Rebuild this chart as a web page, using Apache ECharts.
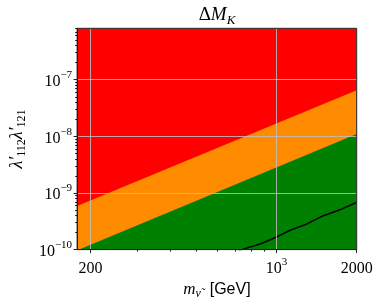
<!DOCTYPE html>
<html><head><meta charset="utf-8">
<script src="https://cdn.jsdelivr.net/npm/echarts@6/dist/echarts.min.js"></script>
<style>html,body{margin:0;padding:0;background:#fff}#c{width:381px;height:305px}</style>
</head><body><div id="c"></div>
<script>
// ---- data ----
const massEdges = [178, 2000];
const redTop = [8.1e-7, 8.1e-7];
const orangeTop = [5.9e-10, 6.5e-8];
const greenTop = [9.7e-11, 1.1e-8];
const curveMass = [720, 745, 872, 1000, 1127, 1300, 1499, 1729, 1966, 2000];
const curveVal = [0.95e-10, 1.01e-10, 1.27e-10, 1.67e-10, 2.21e-10, 2.84e-10, 3.97e-10, 5.04e-10, 6.6e-10, 6.9e-10];
const yMajor = [1e-10, 1e-9, 1e-8, 1e-7];
const yMinor = [];
[1e-10, 1e-9, 1e-8, 1e-7].forEach(d => { for (let k = 2; k <= 9; k++) yMinor.push(k * d); });
const xLabels = [200, 1000, 2000];
const xMinor = [300, 400, 500, 600, 700, 800, 900];

const pairs = (xs, ys) => xs.map((x, i) => [x, ys[i]]);
const serif = 'Liberation Serif';
const sup = { b: { fontFamily: serif, fontSize: 16, color: '#000', lineHeight: 20, verticalAlign: 'bottom' },
              s: { fontFamily: serif, fontSize: 11, color: '#000', lineHeight: 20, verticalAlign: 'top' } };

const chart = echarts.init(document.getElementById('c'));
const grid = { left: 74, right: 24.3, top: 28.3, bottom: 53.3, show: true, borderColor: '#222', borderWidth: 1, backgroundColor: 'transparent', z: 10 };
const gridLine = { show: true, lineStyle: { color: 'rgba(190,190,190,0.85)', width: 1 } };
chart.setOption({
  animation: false,
  grid: grid,
  graphic: [{
    type: 'text', x: 217, y: 15,
    style: { textAlign: 'center', textVerticalAlign: 'middle',
      text: '{d|Δ}{m|M}{k|K}',
      rich: { d: { fontFamily: serif, fontSize: 19, color: '#000', lineHeight: 24, verticalAlign: 'middle' },
              m: { fontFamily: serif, fontSize: 19, fontStyle: 'italic', color: '#000', lineHeight: 24, verticalAlign: 'middle' },
              k: { fontFamily: serif, fontSize: 13, fontStyle: 'italic', color: '#000', lineHeight: 24, verticalAlign: 'bottom' } } }
  }],
  xAxis: [{
    type: 'log', min: 178, max: 2000, position: 'bottom', z: 5,
    name: '{m|m}{n|ν̃}{g|\u00a0\u00a0[GeV]}', nameLocation: 'middle', nameGap: 26,
    nameTextStyle: { rich: {
      m: { fontFamily: serif, fontStyle: 'italic', fontSize: 17, color: '#000', lineHeight: 20, verticalAlign: 'middle' },
      n: { fontFamily: serif, fontStyle: 'italic', fontSize: 12, color: '#000', lineHeight: 20, verticalAlign: 'bottom' },
      g: { fontFamily: 'Liberation Sans', fontSize: 16, color: '#000', lineHeight: 20, verticalAlign: 'middle' } } },
    axisLine: { show: true, onZero: false, lineStyle: { color: '#222', width: 1 } },
    axisTick: { show: true, length: 3.5, customValues: xLabels, lineStyle: { color: '#222' } },
    axisLabel: { show: true, margin: 7, customValues: xLabels,
      formatter: v => (Math.abs(v - 1000) < 1 ? '{b|10}{s|3}' : '{b|' + Math.round(v) + '}'), rich: sup },
    splitLine: gridLine, minorTick: { show: false }
  }, {
    type: 'log', min: 178, max: 2000, position: 'bottom', z: 5,
    axisLine: { show: false, onZero: false },
    axisTick: { show: true, length: 2, customValues: xMinor, lineStyle: { color: '#222' } },
    axisLabel: { show: false }, splitLine: { show: false }
  }],
  yAxis: [{
    type: 'log', min: 1e-10, max: 8.1e-7, position: 'left', z: 5,
    name: '{l|λ′}{i|112}{l|λ′}{i|121}', nameLocation: 'middle', nameGap: 45, nameRotate: 90,
    nameTextStyle: { rich: {
      l: { fontFamily: serif, fontStyle: 'italic', fontSize: 18, color: '#000', lineHeight: 22, verticalAlign: 'middle' },
      i: { fontFamily: serif, fontSize: 12, color: '#000', lineHeight: 22, verticalAlign: 'bottom' } } },
    axisLine: { show: true, onZero: false, lineStyle: { color: '#222', width: 1 } },
    axisTick: { show: true, length: 3.5, customValues: yMajor, lineStyle: { color: '#222' } },
    axisLabel: { show: true, margin: 5, customValues: yMajor,
      formatter: v => '{b|10}{s|−' + Math.round(-Math.log10(v)) + '}', rich: sup },
    splitLine: gridLine, minorTick: { show: false }
  }, {
    type: 'log', min: 1e-10, max: 8.1e-7, position: 'left', z: 5,
    axisLine: { show: false, onZero: false },
    axisTick: { show: true, length: 2, customValues: yMinor, lineStyle: { color: '#222' } },
    axisLabel: { show: false }, splitLine: { show: false }
  }],
  series: [
    { type: 'line', data: pairs(massEdges, redTop), symbol: 'none', lineStyle: { width: 0 },
      areaStyle: { color: '#ff0000', opacity: 1, origin: 'start' }, z: 1 },
    { type: 'line', data: pairs(massEdges, orangeTop), symbol: 'none', lineStyle: { width: 0 },
      areaStyle: { color: '#ff8c00', opacity: 1, origin: 'start' }, z: 2 },
    { type: 'line', data: pairs(massEdges, greenTop), symbol: 'none', lineStyle: { width: 0 },
      areaStyle: { color: '#008000', opacity: 1, origin: 'start' }, z: 3 },
    { type: 'line', data: pairs(curveMass, curveVal), symbol: 'none', smooth: false,
      lineStyle: { color: '#000', width: 1.5 }, z: 4 }
  ]
});
</script></body></html>
